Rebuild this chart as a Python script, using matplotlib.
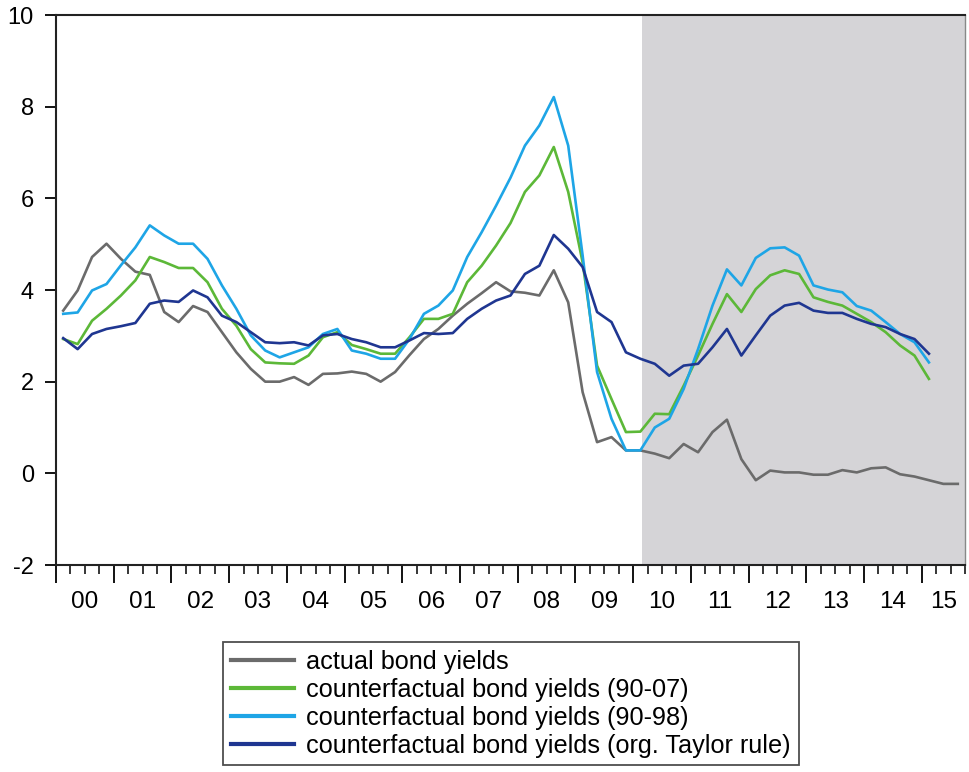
import numpy as np
import matplotlib
matplotlib.use("Agg")
import matplotlib.pyplot as plt

# ---- data (quarterly, 2000Q1 .. 2015Q3) ----
start_year = 2000
n_quarters = 63
year_labels = ["00", "01", "02", "03", "04", "05", "06", "07",
               "08", "09", "10", "11", "12", "13", "14", "15"]

actual = [3.55, 3.99, 4.72, 5.01, 4.68, 4.40, 4.33, 3.52, 3.30, 3.65, 3.52, 3.08,
          2.64, 2.28, 2.00, 2.00, 2.10, 1.93, 2.17, 2.18, 2.22, 2.17, 2.00, 2.21,
          2.58, 2.93, 3.15, 3.44, 3.70, 3.93, 4.17, 3.97, 3.94, 3.88, 4.43, 3.73,
          1.77, 0.68, 0.79, 0.50, 0.50, 0.43, 0.33, 0.64, 0.46, 0.90, 1.17, 0.31,
          -0.15, 0.06, 0.02, 0.02, -0.03, -0.03, 0.07, 0.02, 0.11, 0.13, -0.02, -0.07,
          -0.15, -0.23, -0.23]

cf_90_07 = [2.93, 2.82, 3.33, 3.59, 3.88, 4.21, 4.72, 4.61, 4.48, 4.48, 4.17, 3.59,
            3.22, 2.71, 2.42, 2.40, 2.39, 2.57, 2.97, 3.08, 2.80, 2.71, 2.61, 2.61,
            2.97, 3.37, 3.37, 3.48, 4.17, 4.53, 4.97, 5.46, 6.14, 6.50, 7.12, 6.14,
            4.60, 2.35, 1.62, 0.90, 0.91, 1.30, 1.29, 1.91, 2.57, 3.26, 3.91, 3.52,
            4.02, 4.32, 4.43, 4.35, 3.84, 3.74, 3.66, 3.48, 3.30, 3.08, 2.79, 2.57,
            2.06]

cf_90_98 = [3.48, 3.51, 3.99, 4.13, 4.54, 4.93, 5.41, 5.19, 5.01, 5.01, 4.68, 4.10,
            3.59, 3.01, 2.68, 2.53, 2.64, 2.75, 3.04, 3.15, 2.68, 2.61, 2.50, 2.50,
            2.93, 3.48, 3.66, 3.99, 4.72, 5.26, 5.84, 6.45, 7.15, 7.59, 8.21, 7.15,
            4.75, 2.21, 1.19, 0.50, 0.50, 1.00, 1.19, 1.84, 2.71, 3.66, 4.45, 4.10,
            4.70, 4.91, 4.93, 4.75, 4.10, 4.01, 3.95, 3.65, 3.55, 3.30, 3.04, 2.86,
            2.42]

cf_taylor = [2.95, 2.71, 3.04, 3.15, 3.21, 3.28, 3.70, 3.77, 3.74, 3.99, 3.84, 3.44,
             3.30, 3.08, 2.86, 2.84, 2.86, 2.79, 3.01, 3.04, 2.93, 2.86, 2.75, 2.75,
             2.90, 3.06, 3.04, 3.06, 3.37, 3.59, 3.77, 3.88, 4.35, 4.53, 5.20, 4.90,
             4.50, 3.52, 3.30, 2.64, 2.50, 2.39, 2.13, 2.35, 2.39, 2.75, 3.15, 2.57,
             3.01, 3.44, 3.66, 3.72, 3.55, 3.50, 3.50, 3.37, 3.26, 3.19, 3.04, 2.93,
             2.61]

shade_start_obs = 40  # 2010Q1

series_labels = ["actual bond yields",
                 "counterfactual bond yields (90-07)",
                 "counterfactual bond yields (90-98)",
                 "counterfactual bond yields (org. Taylor rule)"]
series_colors = ["#6b6b6b", "#5cb838", "#1ea5e6", "#1f3691"]

# ---- figure ----
plt.rcParams['font.family'] = ['Liberation Sans', 'DejaVu Sans']
fig = plt.figure(figsize=(9.69, 7.72), dpi=100)
W, H = 969, 772
ax = fig.add_axes([56 / W, 1 - 565 / H, (965 - 56) / W, (565 - 15) / H])

x0 = start_year
xmax = start_year + n_quarters / 4.0

def xpos(n):
    return x0 + (np.arange(n) + 0.5) / 4.0

xs_act = xpos(len(actual))
ax.axvspan(xs_act[shade_start_obs] + 0.03, xmax, color="#d5d4d7", lw=0, zorder=0)

all_series = [actual, cf_90_07, cf_90_98, cf_taylor]
for vals, lab, col in zip(all_series, series_labels, series_colors):
    ax.plot(xpos(len(vals)), vals, color=col, lw=1.9, label=lab, zorder=3)

ax.set_xlim(x0, xmax)
ax.set_ylim(-2, 10)
ax.set_yticks(np.arange(-2, 11, 2))
ax.set_yticklabels([str(v) for v in range(-2, 11, 2)])

years = np.arange(start_year, start_year + len(year_labels))
ax.set_xticks(years)
ax.set_xticklabels([""] * len(years))
quarters = np.arange(x0, xmax + 1e-9, 0.25)
ax.set_xticks([q for q in quarters if abs(q - round(q)) > 1e-6], minor=True)

ax.tick_params(axis='y', direction='out', length=8, width=1.3, labelsize=17, pad=8)
ax.tick_params(axis='x', which='major', direction='out', length=13, width=1.3)
ax.tick_params(axis='x', which='minor', direction='out', length=6.5, width=1.1)

for y_, lab in zip(years, year_labels):
    c = min(y_ + 0.5, (y_ + xmax) / 2.0)
    ax.text(c, -0.068, lab, transform=ax.get_xaxis_transform(),
            ha='center', va='center', fontsize=17.5)

for s in ['left', 'bottom', 'top']:
    ax.spines[s].set_linewidth(1.5)
    ax.spines[s].set_color('#222222')
ax.spines['right'].set_linewidth(1.0)
ax.spines['right'].set_color('#888888')

handles, labels = ax.get_legend_handles_labels()
leg = fig.legend(handles, labels, loc='upper left',
                 bbox_to_anchor=(223 / W, 1 - 642 / H),
                 fontsize=18.2, frameon=True, fancybox=False,
                 edgecolor='#222222', handlelength=2.5, handletextpad=0.5,
                 labelspacing=0.16, borderpad=0.3, borderaxespad=0)
leg.get_frame().set_linewidth(1.3)
for l in leg.get_lines():
    l.set_linewidth(3.0)

fig.savefig("out.png", dpi=100)
